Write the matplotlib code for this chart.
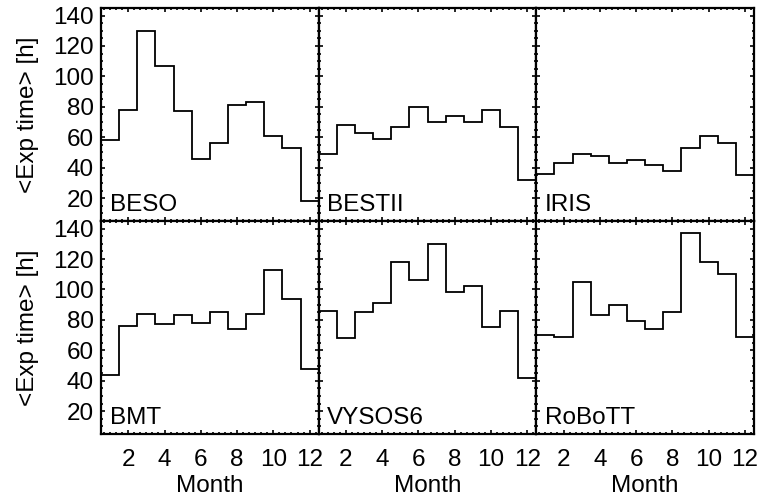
import numpy as np
import matplotlib
matplotlib.use('Agg')
import matplotlib.pyplot as plt
from matplotlib.ticker import MultipleLocator

plt.rcParams['font.family'] = ['Liberation Sans', 'DejaVu Sans']

# mean exposure time per month for each telescope
months = np.arange(1, 13)
beso = [58, 78, 130, 107, 77, 46, 56, 81, 83, 61, 53, 18]
bestii = [49, 68, 63, 59, 67, 80, 70, 74, 70, 78, 67, 32]
iris = [36, 43, 49, 48, 43, 45, 42, 38, 53, 61, 56, 35]
bmt = [44, 76, 84, 77, 83, 78, 85, 74, 84, 113, 94, 48]
vysos6 = [86, 68, 85, 91, 118, 106, 130, 98, 102, 75, 86, 42]
robott = [70, 69, 105, 83, 90, 79, 74, 85, 137, 118, 110, 69]

names = ['BESO', 'BESTII', 'IRIS', 'BMT', 'VYSOS6', 'RoBoTT']
series = [beso, bestii, iris, bmt, vysos6, robott]

fs = 17.5
fig, axes = plt.subplots(2, 3, figsize=(7.59, 4.97), dpi=100,
                         sharex=True, sharey=True)
fig.subplots_adjust(left=0.1331, right=0.9934, top=0.984, bottom=0.1268,
                    wspace=0, hspace=0)

edges = np.append(months - 0.5, months[-1] + 0.5)

for ax, name, vals in zip(axes.flat, names, series):
    ax.stairs(vals, edges, baseline=None, color='black', linewidth=1.3)
    ax.set_xlim(0.5, 12.5)
    ax.set_ylim(5, 145)
    ax.xaxis.set_major_locator(MultipleLocator(2))
    ax.xaxis.set_minor_locator(MultipleLocator(1 / 3))
    ax.yaxis.set_major_locator(MultipleLocator(20))
    ax.yaxis.set_minor_locator(MultipleLocator(5))
    ax.tick_params(which='both', direction='in', top=True, right=True,
                   width=1.2, labelsize=fs, colors='black')
    ax.tick_params(which='major', length=3.2)
    ax.tick_params(which='minor', length=1.6)
    ax.tick_params(axis='x', pad=11)
    ax.tick_params(axis='y', pad=5)
    for sp in ax.spines.values():
        sp.set_linewidth(1.6)
    ax.text(0.04, 0.025, name, transform=ax.transAxes, fontsize=fs,
            ha='left', va='bottom')

for ax in axes[:, 0]:
    ax.set_ylabel('<Exp time> [h]', fontsize=fs, labelpad=10)
for ax in axes[1, :]:
    ax.set_xlabel('Month', fontsize=fs, labelpad=3)

fig.savefig('out.png', dpi=100)
